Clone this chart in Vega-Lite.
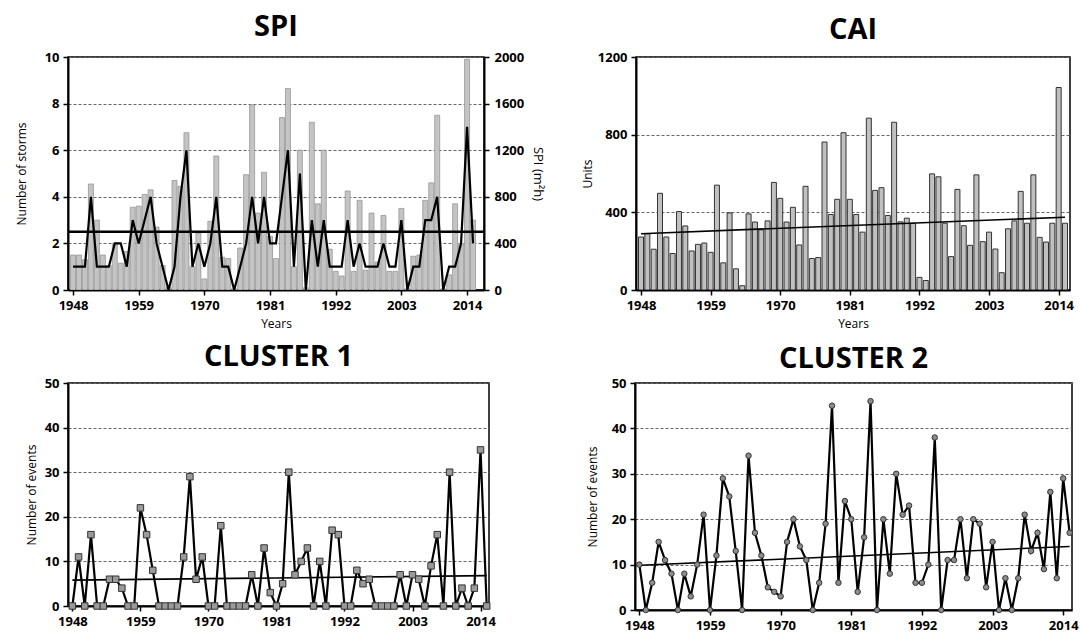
{
  "$schema": "https://vega.github.io/schema/vega-lite/v6.json",
  "padding": {"left": 14, "top": 12, "right": 5, "bottom": 5},
  "background": "white",
  "datasets": {
    "main": [
      {"year":1948,"storms":1,"spi":300,"cai":273,"c1":0,"c2":10},
      {"year":1949,"storms":1,"spi":300,"cai":290,"c1":11,"c2":0},
      {"year":1950,"storms":1,"spi":260,"cai":210,"c1":0,"c2":6},
      {"year":1951,"storms":4,"spi":910,"cai":498,"c1":16,"c2":15},
      {"year":1952,"storms":1,"spi":600,"cai":273,"c1":0,"c2":11},
      {"year":1953,"storms":1,"spi":300,"cai":188,"c1":0,"c2":8},
      {"year":1954,"storms":1,"spi":210,"cai":404,"c1":6,"c2":0},
      {"year":1955,"storms":2,"spi":400,"cai":330,"c1":6,"c2":8},
      {"year":1956,"storms":2,"spi":230,"cai":201,"c1":4,"c2":3},
      {"year":1957,"storms":1,"spi":330,"cai":235,"c1":0,"c2":10},
      {"year":1958,"storms":3,"spi":710,"cai":242,"c1":0,"c2":21},
      {"year":1959,"storms":2,"spi":720,"cai":194,"c1":22,"c2":0},
      {"year":1960,"storms":3,"spi":820,"cai":540,"c1":16,"c2":12},
      {"year":1961,"storms":4,"spi":860,"cai":140,"c1":8,"c2":29},
      {"year":1962,"storms":2,"spi":540,"cai":397,"c1":0,"c2":25},
      {"year":1963,"storms":1,"spi":210,"cai":109,"c1":0,"c2":13},
      {"year":1964,"storms":0,"spi":20,"cai":22,"c1":0,"c2":0},
      {"year":1965,"storms":1,"spi":940,"cai":392,"c1":0,"c2":34},
      {"year":1966,"storms":4,"spi":890,"cai":350,"c1":11,"c2":17},
      {"year":1967,"storms":6,"spi":1350,"cai":310,"c1":29,"c2":12},
      {"year":1968,"storms":1,"spi":200,"cai":356,"c1":6,"c2":5},
      {"year":1969,"storms":2,"spi":490,"cai":554,"c1":11,"c2":4},
      {"year":1970,"storms":1,"spi":95,"cai":472,"c1":0,"c2":3},
      {"year":1971,"storms":2,"spi":590,"cai":350,"c1":0,"c2":15},
      {"year":1972,"storms":4,"spi":1150,"cai":426,"c1":18,"c2":20},
      {"year":1973,"storms":1,"spi":280,"cai":232,"c1":0,"c2":14},
      {"year":1974,"storms":1,"spi":270,"cai":534,"c1":0,"c2":11},
      {"year":1975,"storms":0,"spi":10,"cai":162,"c1":0,"c2":0},
      {"year":1976,"storms":1,"spi":360,"cai":167,"c1":0,"c2":6},
      {"year":1977,"storms":2,"spi":990,"cai":762,"c1":7,"c2":19},
      {"year":1978,"storms":4,"spi":1590,"cai":389,"c1":0,"c2":45},
      {"year":1979,"storms":2,"spi":660,"cai":467,"c1":13,"c2":6},
      {"year":1980,"storms":4,"spi":1010,"cai":810,"c1":3,"c2":24},
      {"year":1981,"storms":2,"spi":460,"cai":467,"c1":0,"c2":20},
      {"year":1982,"storms":2,"spi":270,"cai":389,"c1":5,"c2":4},
      {"year":1983,"storms":4,"spi":1480,"cai":298,"c1":30,"c2":16},
      {"year":1984,"storms":6,"spi":1730,"cai":885,"c1":7,"c2":46},
      {"year":1985,"storms":1,"spi":200,"cai":513,"c1":10,"c2":0},
      {"year":1986,"storms":5,"spi":1200,"cai":527,"c1":13,"c2":20},
      {"year":1987,"storms":0,"spi":20,"cai":384,"c1":0,"c2":8},
      {"year":1988,"storms":3,"spi":1440,"cai":864,"c1":10,"c2":30},
      {"year":1989,"storms":1,"spi":740,"cai":351,"c1":0,"c2":21},
      {"year":1990,"storms":3,"spi":1200,"cai":370,"c1":17,"c2":23},
      {"year":1991,"storms":1,"spi":350,"cai":343,"c1":16,"c2":6},
      {"year":1992,"storms":1,"spi":160,"cai":65,"c1":0,"c2":6},
      {"year":1993,"storms":1,"spi":120,"cai":49,"c1":0,"c2":10},
      {"year":1994,"storms":3,"spi":850,"cai":598,"c1":8,"c2":38},
      {"year":1995,"storms":1,"spi":160,"cai":583,"c1":5,"c2":0},
      {"year":1996,"storms":2,"spi":770,"cai":344,"c1":6,"c2":11},
      {"year":1997,"storms":1,"spi":170,"cai":172,"c1":0,"c2":11},
      {"year":1998,"storms":1,"spi":660,"cai":518,"c1":0,"c2":20},
      {"year":1999,"storms":1,"spi":240,"cai":331,"c1":0,"c2":7},
      {"year":2000,"storms":2,"spi":640,"cai":230,"c1":0,"c2":20},
      {"year":2001,"storms":1,"spi":160,"cai":593,"c1":7,"c2":19},
      {"year":2002,"storms":1,"spi":160,"cai":249,"c1":0,"c2":5},
      {"year":2003,"storms":3,"spi":700,"cai":298,"c1":7,"c2":15},
      {"year":2004,"storms":0,"spi":10,"cai":211,"c1":6,"c2":0},
      {"year":2005,"storms":1,"spi":290,"cai":89,"c1":0,"c2":7},
      {"year":2006,"storms":1,"spi":300,"cai":315,"c1":9,"c2":0},
      {"year":2007,"storms":3,"spi":770,"cai":356,"c1":16,"c2":7},
      {"year":2008,"storms":3,"spi":920,"cai":508,"c1":0,"c2":21},
      {"year":2009,"storms":4,"spi":1500,"cai":344,"c1":30,"c2":13},
      {"year":2010,"storms":0,"spi":10,"cai":593,"c1":0,"c2":17},
      {"year":2011,"storms":1,"spi":130,"cai":271,"c1":4,"c2":9},
      {"year":2012,"storms":1,"spi":740,"cai":247,"c1":0,"c2":26},
      {"year":2013,"storms":2,"spi":400,"cai":344,"c1":4,"c2":7},
      {"year":2014,"storms":7,"spi":1980,"cai":1043,"c1":35,"c2":29},
      {"year":2015,"storms":2,"spi":600,"cai":344,"c1":0,"c2":17}
    ],
    "meanStorms": [{"mean_storms": 2.5}],
    "trendCAI": [{"year":1948,"trend":290},{"year":2015,"trend":375}],
    "trendC1": [{"year":1948,"trend":5.8},{"year":2015,"trend":6.8}],
    "trendC2": [{"year":1947.32,"trend":9.8},{"year":2015,"trend":14.0}]
  },
  "vconcat": [
    {
      "hconcat": [
        {
          "title": {"text": "SPI", "offset": 9},
          "width": 416,
          "height": 233,
          "data": {"name": "main"},
          "layer": [
            {
              "mark": {"type": "bar", "size": 5, "fill": "#c4c4c4", "stroke": "#8c8c8c", "strokeWidth": 0.7, "clip": true},
              "encoding": {
                "x": {"field": "year", "type": "quantitative", "scale": {"domain": [1948, 2016], "nice": false, "zero": false},
                      "axis": {"values": [1948,1959,1970,1981,1992,2003,2014], "format": "d", "title": "Years", "titlePadding": 6}},
                "y": {"field": "spi", "type": "quantitative", "scale": {"domain": [0, 2000], "nice": false},
                      "axis": {"orient": "right", "values": [0,400,800,1200,1600,2000], "format": "d", "title": "SPI (m²h)", "titleFontSize": 13, "grid": false, "labelPadding": 5, "titlePadding": 7}}
              }
            },
            {
              "mark": {"type": "line", "color": "black", "strokeWidth": 2.2},
              "encoding": {
                "x": {"field": "year", "type": "quantitative"},
                "y": {"field": "storms", "type": "quantitative", "scale": {"domain": [0, 10], "nice": false},
                      "axis": {"orient": "left", "values": [0,2,4,6,8,10], "format": "d", "title": "Number of storms", "grid": true, "titlePadding": 16}}
              }
            },
            {
              "data": {"name": "meanStorms"},
              "mark": {"type": "rule", "color": "black", "strokeWidth": 2.5},
              "encoding": {
                "y": {"field": "mean_storms", "type": "quantitative", "scale": {"domain": [0, 10], "nice": false}, "axis": null}
              }
            }
          ],
          "resolve": {"scale": {"y": "independent"}}
        },
        {
          "title": {"text": "CAI", "offset": 6},
          "width": 434,
          "height": 233,
          "layer": [
            {
              "data": {"name": "main"},
              "mark": {"type": "bar", "size": 5, "fill": "#c0c0c0", "stroke": "#333333", "strokeWidth": 1, "clip": true},
              "encoding": {
                "x": {"field": "year", "type": "quantitative", "scale": {"domain": [1948, 2015], "nice": false, "zero": false},
                      "axis": {"values": [1948,1959,1970,1981,1992,2003,2014], "format": "d", "title": "Years", "titlePadding": 6}},
                "y": {"field": "cai", "type": "quantitative", "scale": {"domain": [0, 1200], "nice": false},
                      "axis": {"values": [0,400,800,1200], "format": "d", "title": "Units", "grid": true, "titlePadding": 3}}
              }
            },
            {
              "data": {"name": "trendCAI"},
              "mark": {"type": "line", "color": "black", "strokeWidth": 1.6},
              "encoding": {
                "x": {"field": "year", "type": "quantitative"},
                "y": {"field": "trend", "type": "quantitative"}
              }
            }
          ]
        }
      ],
      "spacing": 35
    },
    {
      "hconcat": [
        {
          "title": {"text": "CLUSTER 1", "offset": 5},
          "width": 421,
          "height": 223,
          "layer": [
            {
              "data": {"name": "trendC1"},
              "mark": {"type": "line", "color": "black", "strokeWidth": 1.6},
              "encoding": {
                "x": {"field": "year", "type": "quantitative", "scale": {"domain": [1947.29, 2015.37], "nice": false, "zero": false},
                      "axis": {"values": [1948,1959,1970,1981,1992,2003,2014], "format": "d", "title": null}},
                "y": {"field": "trend", "type": "quantitative", "scale": {"domain": [0, 50], "nice": false},
                      "axis": {"values": [0,10,20,30,40,50], "title": "Number of events", "grid": true, "titlePadding": 6}}
              }
            },
            {
              "data": {"name": "main"},
              "mark": {"type": "line", "color": "black", "strokeWidth": 2.2, "point": {"shape": "square", "size": 42, "fill": "#9a9a9a", "stroke": "#333333", "strokeWidth": 1, "filled": true}},
              "encoding": {
                "x": {"field": "year", "type": "quantitative"},
                "y": {"field": "c1", "type": "quantitative"}
              }
            }
          ]
        },
        {
          "title": {"text": "CLUSTER 2", "offset": 3},
          "width": 437,
          "height": 227,
          "layer": [
            {
              "data": {"name": "trendC2"},
              "mark": {"type": "line", "color": "black", "strokeWidth": 1.6},
              "encoding": {
                "x": {"field": "year", "type": "quantitative", "scale": {"domain": [1947.32, 2015.37], "nice": false, "zero": false},
                      "axis": {"values": [1948,1959,1970,1981,1992,2003,2014], "format": "d", "title": null}},
                "y": {"field": "trend", "type": "quantitative", "scale": {"domain": [0, 50], "nice": false},
                      "axis": {"values": [0,10,20,30,40,50], "title": "Number of events", "grid": true, "titlePadding": 12}}
              }
            },
            {
              "data": {"name": "main"},
              "mark": {"type": "line", "color": "black", "strokeWidth": 2.2, "point": {"shape": "circle", "size": 30, "fill": "#8c8c8c", "stroke": "#333333", "strokeWidth": 1, "filled": true}},
              "encoding": {
                "x": {"field": "year", "type": "quantitative"},
                "y": {"field": "c2", "type": "quantitative"}
              }
            }
          ]
        }
      ],
      "spacing": 88
    }
  ],
  "spacing": 12,
  "config": {
    "view": {"stroke": "black", "strokeWidth": 1.5},
    "font": "Open Sans",
    "axis": {
      "labelFont": "Open Sans", "labelFontSize": 13, "labelFontWeight": "bold", "labelColor": "black",
      "titleFont": "Open Sans", "titleFontSize": 12, "titleFontWeight": "normal", "titleColor": "black",
      "domainColor": "black", "domainWidth": 2, "tickColor": "black", "tickWidth": 1.5, "tickSize": 5,
      "labelFlush": false, "labelOverlap": false, "gridColor": "#666666", "gridDash": [3, 2], "gridWidth": 1, "labelPadding": 4
    },
    "axisX": {"grid": false},
    "title": {"font": "Open Sans", "fontSize": 29, "fontWeight": "bold", "color": "black", "anchor": "middle"}
  }
}
